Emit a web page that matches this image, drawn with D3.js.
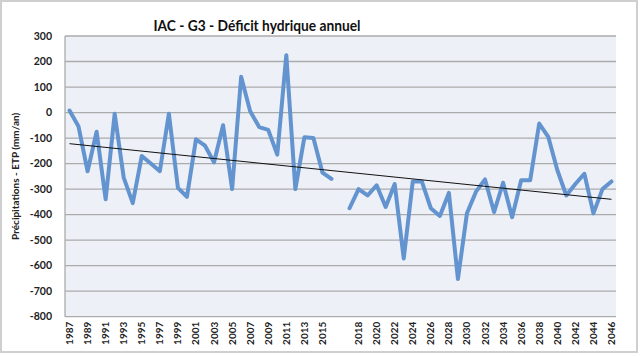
<!DOCTYPE html>
<html><head><meta charset="utf-8">
<script src="https://cdn.jsdelivr.net/npm/d3@7/dist/d3.min.js"></script>
<style>
html,body{margin:0;padding:0;background:#fff;}
svg{display:block;font-family:Lato,"Open Sans",sans-serif;}
</style></head>
<body>
<svg id="c" width="640" height="356"></svg>
<script>
const categories = ["1987","1988","1989","1990","1991","1992","1993","1994","1995","1996","1997","1998","1999","2000","2001","2002","2003","2004","2005","2006","2007","2008","2009","2010","2011","2012","2013","2014","2015","2016","","2017","2018","2019","2020","2021","2022","2023","2024","2025","2026","2027","2028","2029","2030","2031","2032","2033","2034","2035","2036","2037","2038","2039","2040","2041","2042","2043","2044","2045","2046"];
const values = [8,-55,-230,-75,-340,-5,-255,-355,-170,-200,-230,-5,-295,-330,-105,-130,-195,-50,-300,140,5,-57,-68,-165,225,-300,-97,-100,-235,-260,null,-375,-300,-325,-285,-370,-280,-572,-270,-270,-375,-405,-315,-652,-395,-310,-262,-390,-275,-410,-265,-265,-43,-95,-225,-325,-280,-240,-395,-300,-270];
const trend = [-122, -340];
const yTicks = [300,200,100,0,-100,-200,-300,-400,-500,-600,-700,-800];
const title = "IAC - G3 - Déficit hydrique annuel";
const yTitle = "Précipitations - ETP (mm/an)";

const svg = d3.select("#c");
// outer frame
svg.append("rect").attr("x",1).attr("y",1).attr("width",636).attr("height",351)
  .attr("fill","#fff").attr("stroke","#cfcfcf").attr("stroke-width",2);

const L=65, R=616, T=36, B=316.7;
const x = d3.scaleBand().domain(d3.range(categories.length)).range([L,R]).padding(0);
const cx = i => x(i) + x.bandwidth()/2;
const y = d3.scaleLinear().domain([-800,300]).range([B,T]);

svg.append("rect").attr("x",L).attr("y",T).attr("width",R-L).attr("height",B-T).attr("fill","#edf0f6");

// gridlines
svg.append("g").selectAll("line").data(yTicks).join("line")
  .attr("x1",L).attr("x2",R).attr("y1",d=>y(d)).attr("y2",d=>y(d))
  .attr("stroke","#ababab").attr("stroke-width",1.3);
// left axis line
svg.append("line").attr("x1",L).attr("x2",L).attr("y1",T).attr("y2",B).attr("stroke","#ababab").attr("stroke-width",1.3);

// y tick labels
svg.append("g").selectAll("text").data(yTicks).join("text")
  .attr("x",52).attr("y",d=>y(d)).attr("dy","0.35em").attr("text-anchor","end")
  .attr("font-size",10.5).attr("font-weight","bold").attr("fill","#222").text(d=>d);

// x tick labels
svg.append("g").selectAll("text").data(categories.map((c,i)=>({c,i})).filter(d=>d.i%2===0)).join("text")
  .attr("transform",d=>`translate(${cx(d.i)+3.5},${B+5}) rotate(-90)`)
  .attr("text-anchor","end").attr("font-size",10).attr("font-weight","bold").attr("fill","#222").text(d=>d.c);

// series
const line = d3.line().defined(d=>d.v!==null).x(d=>cx(d.i)).y(d=>y(d.v));
svg.append("path").datum(values.map((v,i)=>({v,i})))
  .attr("d",line).attr("fill","none").attr("stroke","#6394cf").attr("stroke-width",4)
  .attr("stroke-linejoin","round").attr("stroke-linecap","round");

// trend line
svg.append("line").attr("x1",cx(0)).attr("x2",cx(categories.length-1))
  .attr("y1",y(trend[0])).attr("y2",y(trend[1])).attr("stroke","#111").attr("stroke-width",1);

// title
svg.append("text").attr("x",257).attr("y",31).attr("text-anchor","middle")
  .attr("font-size",15).attr("font-weight","bold").attr("fill","#111")
  .attr("textLength",207).attr("lengthAdjust","spacingAndGlyphs").text(title);

// y title
svg.append("text").attr("transform",`translate(19,${(T+B)/2}) rotate(-90)`)
  .attr("text-anchor","middle").attr("font-size",10).attr("font-weight","bold").attr("fill","#222").text(yTitle);
</script>
</body></html>
